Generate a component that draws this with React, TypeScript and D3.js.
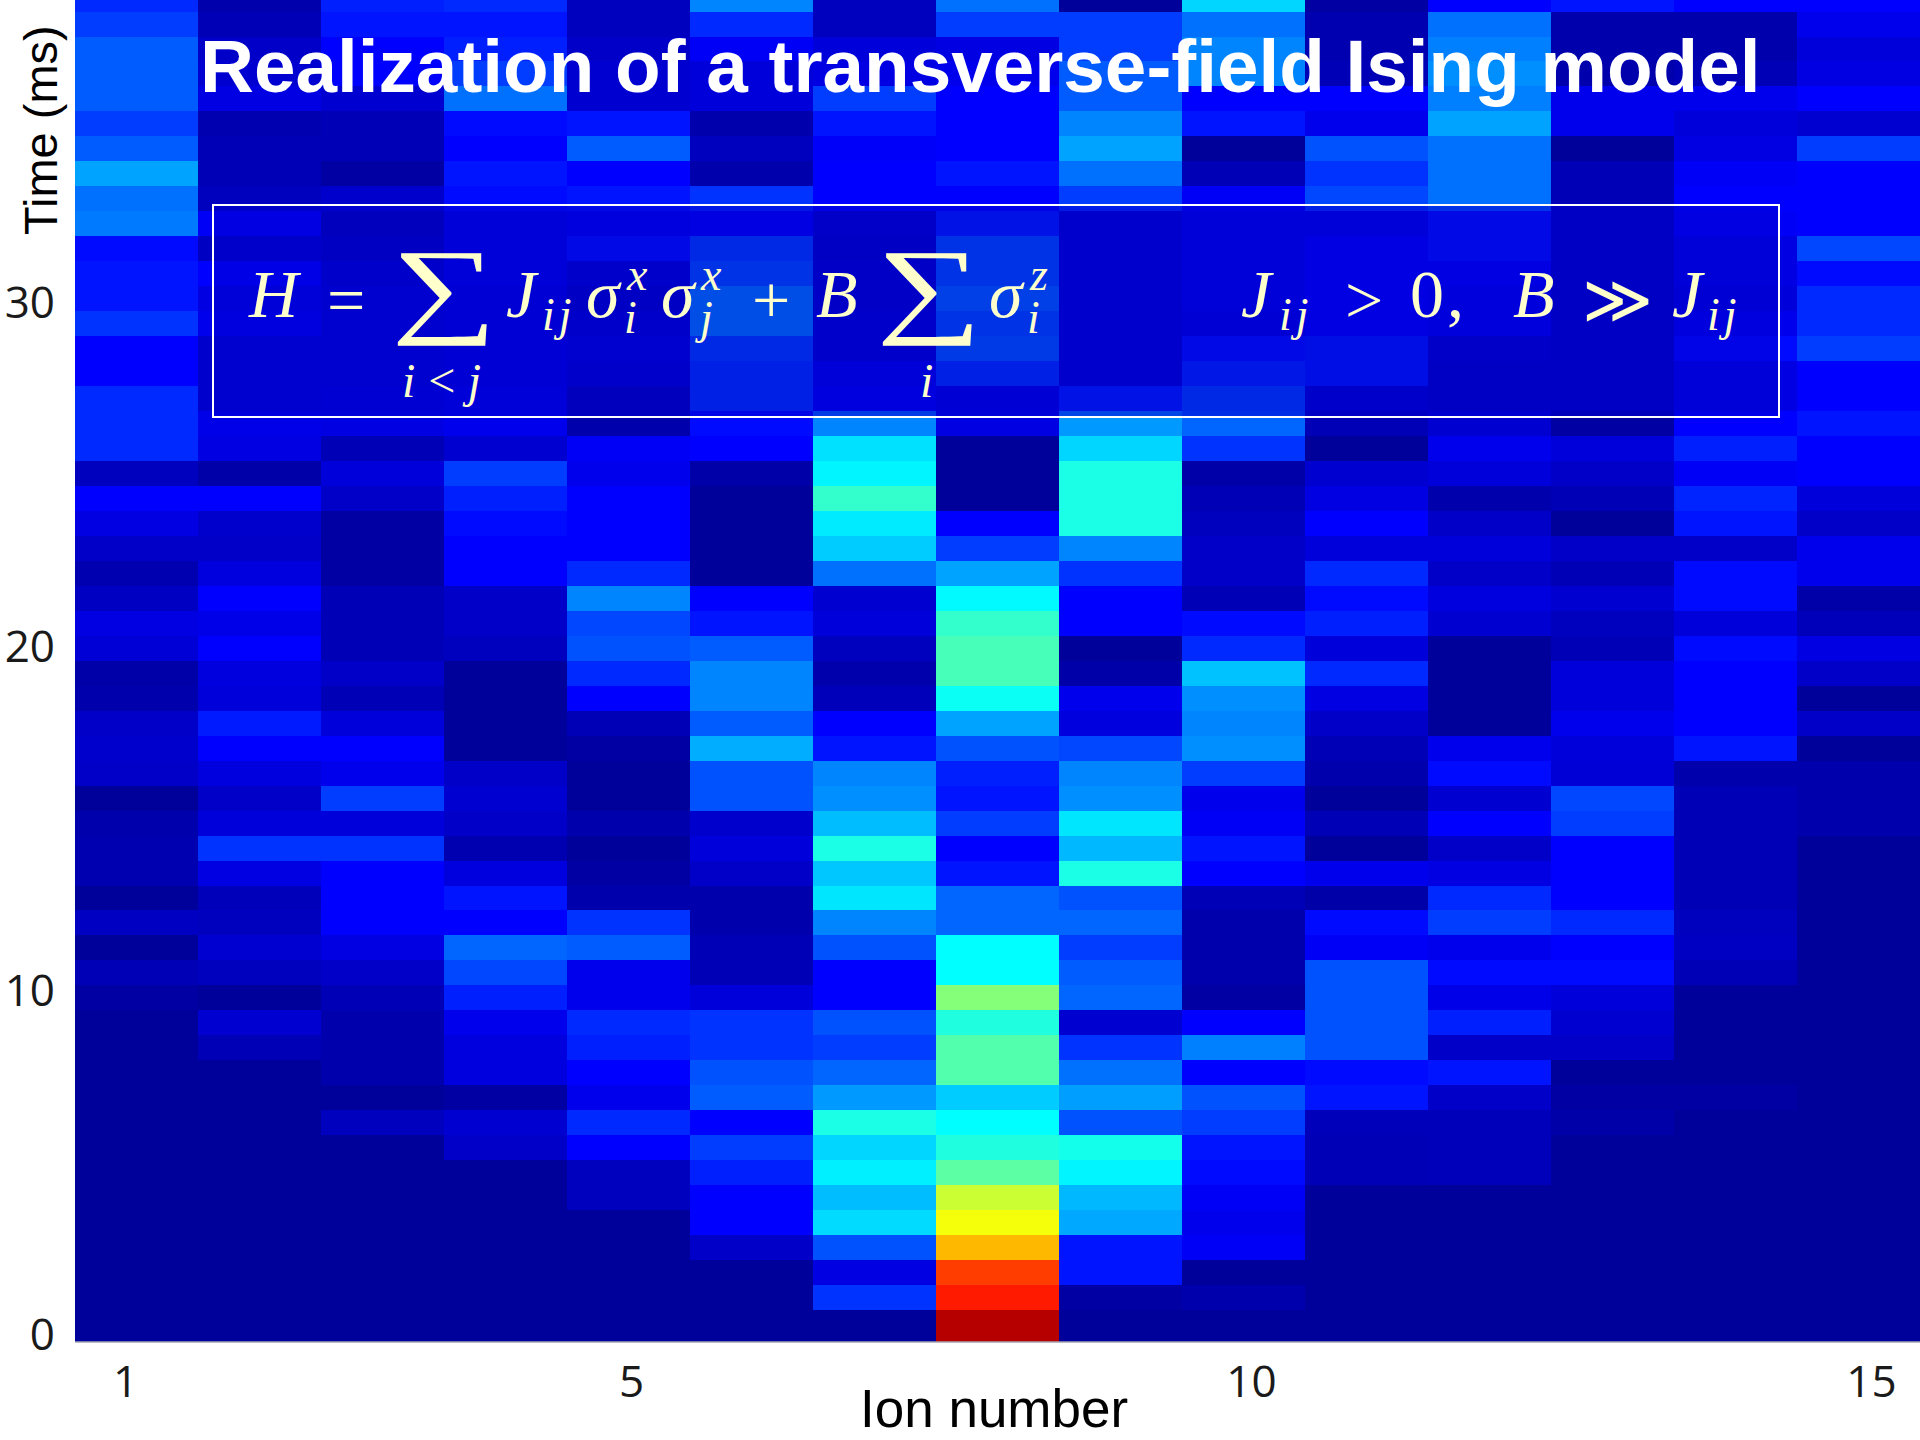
import React, { useEffect, useRef } from 'react';
import * as d3 from 'd3';

// each ion is one column, listed from the first time step (bottom) upward
const ion1 = [0,0,0,0,0,0,0,0,0,0, 0,0,0,.01,.03,0,.045,0,.025,.025, .02,0,.05,.055,.05,.02,.015,.065,.08,.045, .025,.05,.08,.11,.04,.15,.15,.15,.11,.11, .16,.13,.13,.12,.23,.22,.27,.2,.17,.2, .2,.2,.17,.15];
const ion2 = [0,0,0,0,0,0,0,0,0,0, 0,.03,.06,0,.04,.06,.04,.035,.08,.16, .07,.05,.075,.11,.135,.07,.075,.11,.085,.11, .075,.05,.055,.11,.015,.08,.085,.055,.055,.055, .09,.08,.11,.045,.1,.04,.03,.03,.025,.08, .06,.05,.03,.02];
const ion3 = [0,0,0,0,0,0,0,0,.04,0, .02,.02,.02,.03,.05,.08,.11,.11,.11,.16, .07,.17,.09,.11,.07,.03,.05,.03,.03,.03, .01,.01,.01,.05,.07,.03,.08,.065,.055,.055, .055,.055,.045,.025,.012,.055,.01,.03,.03,.06, .11,.11,.13,.14];
const ion4 = [0,0,0,0,0,0,0,.05,.06,.01, .075,.075,.09,.14,.18,.21,.11,.13,.075,.025, .05,.06,.05,0,0,0,0,.04,.05,.05, .11,.11,.12,.14,.17,.06,.09,.08,.07,.07, .07,.07,.08,.08,.08,.12,.13,.11,.12,.22, .17,.14,.13,.15];
const ion5 = [0,0,0,0,0,.04,.04,.11,.15,.09, .11,.14,.15,.09,.09,.2,.16,.02,.01,0, .02,0,0,.01,.03,.11,.15,.19,.18,.24, .15,.11,.11,.11,.09,.1,.02,.012,.045,.055, .045,.03,.045,.13,.09,.13,.11,.2,.13,.06, .06,.05,.04,.04];
const ion6 = [0,0,0,.05,.11,.11,.14,.17,.11,.2, .19,.16,.16,.07,.03,.03,.02,.02,.05,.07, .055,.19,.19,.28,.2,.24,.24,.2,.13,.11, 0,0,0,0,.015,.11,.12,.18,.18,.2, .28,.28,.22,.2,.1,.16,.02,.04,.02,.07, .07,.1,.15,.24];
const ion7 = [0,.16,.08,.19,.325,.295,.345,.32,.385,.26, .21,.17,.19,.11,.11,.19,.24,.335,.305,.385, .295,.25,.24,.13,.11,.035,.02,.04,.07,.06, .22,.31,.34,.41,.35,.33,.24,.09,.08,.045, .045,.035,.035,.03,.04,.11,.11,.105,.13,.17, .08,.07,.04,.04];
const ion8 = [.94,.835,.8,.68,.6,.56,.45,.39,.36,.31, .44,.44,.39,.49,.36,.36,.21,.21,.13,.11, .17,.13,.14,.19,.27,.37,.43,.43,.41,.355, .27,.17,.11,0,0,0,.08,.07,.18,.235, .22,.25,.22,.22,.15,.11,.13,.11,.11,.11, .09,.08,.17,.22];
const ion9 = [0,.01,.13,.13,.275,.29,.35,.38,.19,.265, .22,.16,.06,.21,.2,.17,.21,.19,.385,.29, .335,.25,.24,.18,.075,.09,.015,0,.11,.11, .16,.24,.385,.385,.385,.32,.26,.15,.05,.05, .05,.05,.05,.05,.05,.17,.22,.27,.24,.2, .2,.17,.17,0];
const ion10 = [0,.02,0,.1,.09,.1,.12,.13,.17,.19, .11,.235,.11,.01,.02,.02,.02,.03,.11,.13, .1,.09,.17,.25,.24,.25,.3,.15,.12,.03, .05,.05,.04,.03,.015,.16,.21,.2,.16,.13, .07,.08,.08,.08,.08,.1,.03,0,.13,.11, .24,.24,.22,.32];
const ion11 = [0,0,0,0,0,0,.03,.03,.035,.13, .12,.19,.19,.19,.19,.1,.12,.015,.09,0, .03,0,.02,.03,.05,.08,.15,.07,.14,.12, .15,.07,.11,.08,.06,0,.03,.045,.14,.14, .1,.1,.1,.1,.08,.18,.16,.19,.09,.11, .03,.025,.025,.01];
const ion12 = [0,0,0,0,0,0,.035,.035,.035,.05, .13,.05,.14,.085,.12,.09,.17,.15,.08,.05, .11,.06,.12,.09,0,0,0,0,.06,.075, .05,.07,.05,.02,.07,.09,.06,.03,.03,.04, .085,.085,.1,.13,.13,.22,.22,.22,.27,.235, .25,.235,.22,.11];
const ion13 = [0,0,0,0,0,0,0,0,.015,.01, 0,.05,.06,.07,.12,.11,.15,.11,.11,.11, .17,.18,.065,.07,.09,.07,.07,.03,.04,.06, .03,.05,0,.03,.05,.07,.01,.03,.03,.03, .03,.03,.03,.03,.03,.03,.03,0,.09,.09, .02,.02,.02,.13];
const ion14 = [0,0,0,0,0,0,0,0,0,.01, 0,0,0,0,.03,.045,.04,.03,.03,.03, .03,.03,.02,.13,.11,.11,.11,.12,.07,.12, .12,.05,.13,.145,.1,.14,.11,.08,.08,.12, .09,.07,.08,.08,.1,.11,.1,.08,.07,.09, .03,.02,.02,.11];
const ion15 = [0,0,0,0,0,0,0,0,0,0, 0,0,0,0,0,0,0,0,0,0, .02,.02,.02,0,.05,0,.05,.08,.035,.015, .09,.09,.05,.07,.11,.11,.13,.11,.11,.17, .15,.15,.12,.18,.11,.11,.11,.17,.06,.11, .08,.07,.09,.11];

const ions = [ion1, ion2, ion3, ion4, ion5, ion6, ion7, ion8, ion9, ion10, ion11, ion12, ion13, ion14, ion15];
const ionTicks = [1, 5, 10, 15];
const timeTicks = [0, 10, 20, 30];
const timeStep = 0.7259; // ms per row

const titleText = 'Realization of a transverse-field Ising model';

const CREAM = '#ffffcc';
const SERIF = '"Liberation Serif", serif';
const SANS = '"Liberation Sans", Arial, sans-serif';

// formula pieces: text, left x, baseline y, size, italic, x stretch, letter spacing
const formula: [string, number, number, number, boolean, number, number][] = [
  ['H', 249, 317, 68, true, 1, 0],
  ['=', 327, 323, 68, false, 1, 0],
  ['∑', 391, 323, 106, false, 1.4, 0],
  ['J', 506, 317, 68, true, 1, 0],
  ['ij', 542, 330, 46, true, 1, 4],
  ['σ', 586, 317, 68, true, 1, 0],
  ['x', 627, 290, 46, true, 1, 0],
  ['i', 624, 333, 46, true, 1, 0],
  ['σ', 661, 317, 68, true, 1, 0],
  ['x', 701, 290, 46, true, 1, 0],
  ['j', 700, 333, 46, true, 1, 0],
  ['+', 752, 323, 68, false, 1, 0],
  ['B', 816, 317, 68, true, 1, 0],
  ['∑', 876, 323, 106, false, 1.4, 0],
  ['σ', 989, 317, 68, true, 1, 0],
  ['z', 1030, 290, 46, true, 1, 0],
  ['i', 1027, 333, 46, true, 1, 0],
  ['i<j', 402, 397, 48, true, 1, 10],
  ['i', 920, 397, 48, true, 1, 0],
  ['J', 1241, 317, 68, true, 1, 0],
  ['ij', 1279, 330, 46, true, 1, 4],
  ['>', 1345, 323, 68, false, 1, 0],
  ['0', 1410, 317, 68, false, 1, 0],
  [',', 1447, 317, 68, false, 1, 0],
  ['B', 1513, 317, 68, true, 1, 0],
  ['≫', 1582, 323, 68, false, 1, 0],
  ['J', 1672, 317, 68, true, 1, 0],
  ['ij', 1707, 330, 46, true, 1, 4],
];

export default function App() {
  const ref = useRef<SVGSVGElement | null>(null);

  useEffect(() => {
    const svg = d3.select(ref.current);
    svg.selectAll('*').remove();

    const left = 75;
    const right = 1920;
    const bottom = 1342;

    const x = d3.scaleBand<number>().domain(d3.range(1, 16)).range([left, right]);
    const y = d3.scaleLinear().domain([0, 30]).range([1335, 303]);
    const labelX = d3.scaleLinear().domain([1, 5, 15]).range([125, 631, 1871]);

    // jet colormap
    const jet = d3
      .scaleLinear<string>()
      .domain([0, 0.11, 0.36, 0.61, 0.86, 1])
      .range(['#00009a', '#0000ff', '#00ffff', '#ffff00', '#ff0000', '#800000'])
      .clamp(true);

    const cells = ions.flatMap((col, i) => col.map((v, r) => ({ ion: i + 1, r, v })));

    svg
      .append('g')
      .attr('shape-rendering', 'crispEdges')
      .selectAll('rect')
      .data(cells)
      .enter()
      .append('rect')
      .attr('x', d => x(d.ion) as number)
      .attr('width', x.bandwidth())
      .attr('y', d => y((d.r + 1) * timeStep))
      .attr('height', d => (d.r === 0 ? bottom : y(d.r * timeStep)) - y((d.r + 1) * timeStep))
      .attr('fill', d => jet(d.v));

    // bottom axis
    const xAxis = svg
      .append('g')
      .attr('transform', `translate(0,${bottom})`)
      .call(d3.axisBottom(labelX).tickValues(ionTicks).tickFormat(d3.format('d')).tickSize(0).tickPadding(24));
    xAxis.select('.domain').remove();
    xAxis.append('line').attr('x1', left).attr('x2', right).attr('stroke', '#a4a4b0').attr('stroke-width', 1.5);

    const yAxis = svg
      .append('g')
      .attr('transform', `translate(${left},0)`)
      .call(d3.axisLeft(y).tickValues(timeTicks).tickFormat(d3.format('d')).tickSize(0).tickPadding(20));
    yAxis.select('.domain').remove();

    svg
      .selectAll('.tick text')
      .attr('font-family', '"Open Sans", sans-serif')
      .attr('font-size', 44)
      .attr('fill', '#1a1a1a');

    svg
      .append('text')
      .attr('transform', 'translate(57,235) rotate(-90)')
      .attr('font-family', SANS)
      .attr('font-size', 47)
      .attr('fill', '#000')
      .text('Time (ms)');

    svg
      .append('text')
      .attr('x', 860)
      .attr('y', 1427)
      .attr('font-family', SANS)
      .attr('font-size', 53)
      .attr('fill', '#000')
      .text('Ion number');

    svg
      .append('text')
      .attr('x', 200)
      .attr('y', 92)
      .attr('font-family', SANS)
      .attr('font-weight', 'bold')
      .attr('font-size', 74.7)
      .attr('fill', '#fff')
      .text(titleText);

    // formula box
    svg
      .append('rect')
      .attr('x', 213)
      .attr('y', 205)
      .attr('width', 1566)
      .attr('height', 212)
      .attr('fill', '#0000d2')
      .attr('fill-opacity', 0.55)
      .attr('stroke', '#fff')
      .attr('stroke-width', 2);

    svg
      .append('g')
      .selectAll('text')
      .data(formula)
      .enter()
      .append('text')
      .attr('transform', d => `translate(${d[1]},${d[2]}) scale(${d[5]},1)`)
      .attr('font-size', d => d[3])
      .attr('font-style', d => (d[4] ? 'italic' : 'normal'))
      .attr('letter-spacing', d => d[6])
      .attr('font-family', d => (d[0] === '≫' ? '"DejaVu Serif", serif' : SERIF))
      .attr('fill', CREAM)
      .text(d => d[0]);
  }, []);

  return (
    <svg
      ref={ref}
      width={1920}
      height={1440}
      style={{ position: 'absolute', left: 0, top: 0, display: 'block', background: '#fff' }}
    />
  );
}
